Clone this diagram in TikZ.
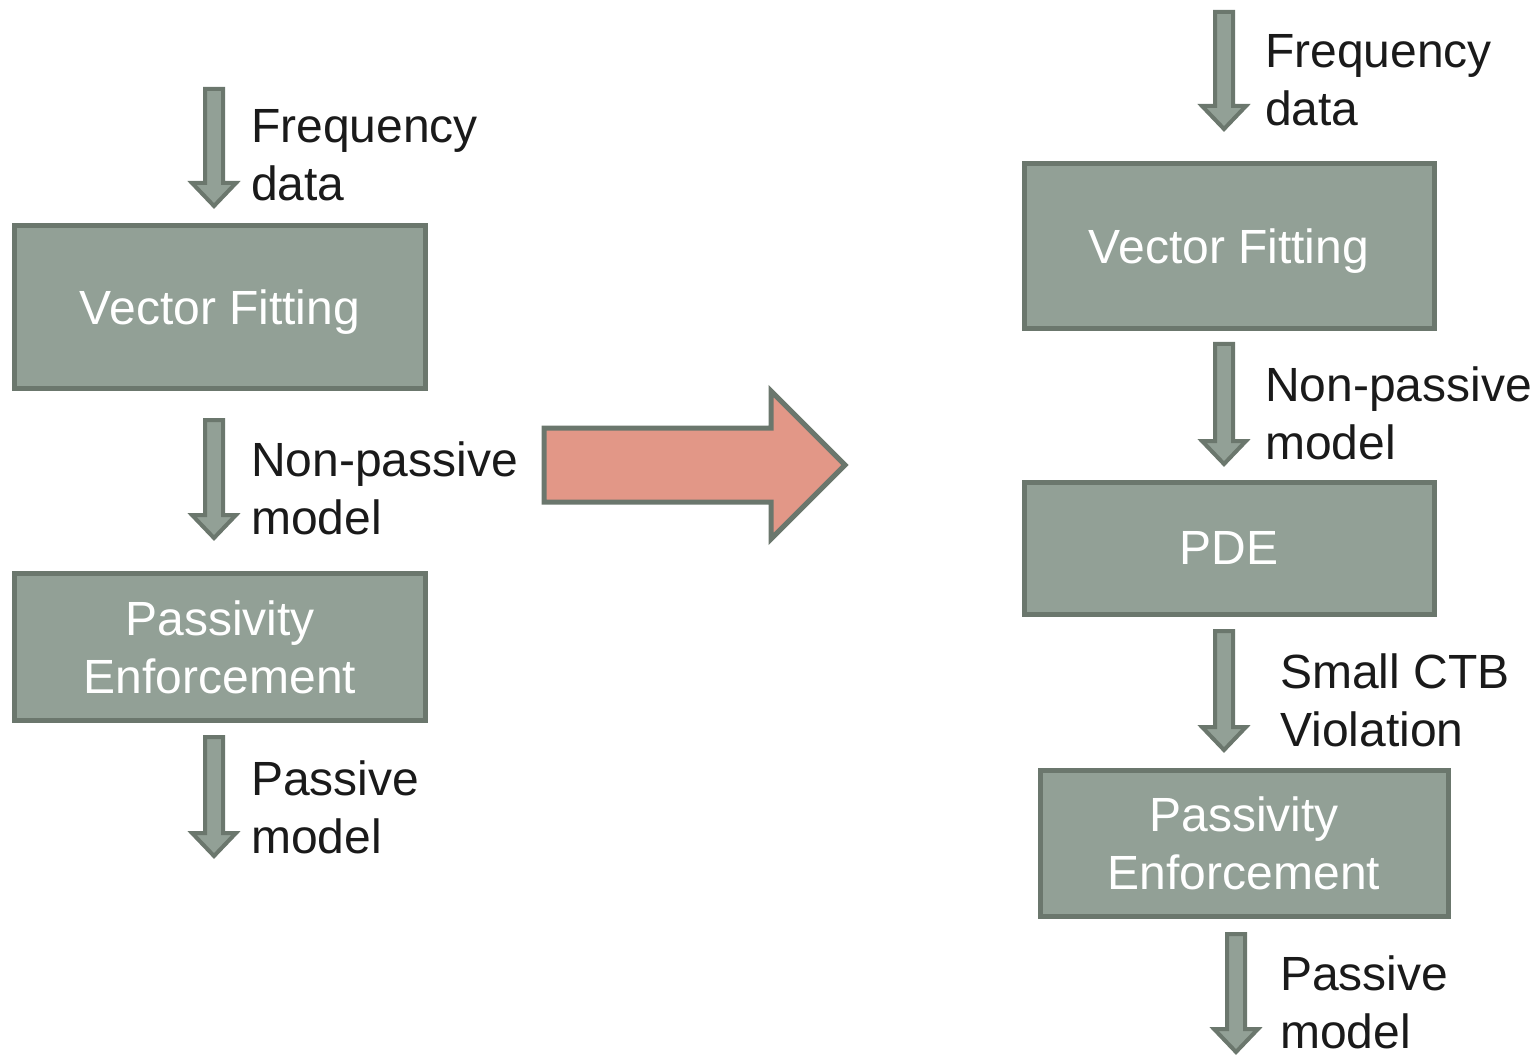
\documentclass[tikz,border=0pt]{standalone}
\usepackage{fontspec}
\setmainfont{Liberation Sans}
\usepackage{tikz}

\definecolor{boxfill}{HTML}{92A096}
\definecolor{boxline}{HTML}{6B776D}
\definecolor{bigfill}{HTML}{E29787}
\definecolor{labeltext}{HTML}{1A1A1A}

\tikzset{
  stage/.style={draw=boxline, fill=boxfill, line width=5pt, text=white,
    align=center, inner sep=0pt, font=\fontsize{48}{58}\selectfont},
  caption/.style={anchor=base west, align=left, inner sep=0pt,
    text=labeltext, font=\fontsize{48}{58}\selectfont},
  flow/.style={draw=boxline, fill=boxfill, line width=4pt, line join=miter},
}
% block arrow pointing down: x, top, tip
\newcommand\flowdown[3]{%
  \draw[flow] (#1-9,#2) -- (#1+9,#2) -- (#1+9,#3-27) -- (#1+22,#3-27)
    -- (#1,#3-4) -- (#1-22,#3-27) -- (#1-9,#3-27) -- cycle;}

\begin{document}
\begin{tikzpicture}[x=1pt,y=-1pt]
    \useasboundingbox (0,0) rectangle (1539,1056);
    % left chain
    \node[stage, text depth=0pt, minimum width=411, minimum height=163] (vfL) at (220,307) {Vector Fitting};
    \node[stage, minimum width=411, minimum height=147] (peL) at (220,647) {Passivity\\Enforcement};
    \flowdown{214}{89}{210}
    \flowdown{214}{420}{542}
    \flowdown{214}{737}{860}
    \node[caption] (inL) at (251,201) {Frequency\\data};
    \node[caption] (npL) at (251,534) {Non-passive\\model};
    \node[caption] (outL) at (251,853) {Passive\\model};
    % big arrow
    \draw[draw=boxline, fill=bigfill, line width=5pt, line join=miter]
      (544,428) -- (771,428) -- (771,391) -- (845,465) -- (771,539)
      -- (771,502) -- (544,502) -- cycle;
    % right chain
    \node[stage, text depth=0pt, minimum width=410, minimum height=165] (vfR) at (1229,246) {Vector Fitting};
    \node[stage, minimum width=410, minimum height=132] (pdeR) at (1229,548) {PDE};
    \node[stage, minimum width=408, minimum height=146] (peR) at (1244,843) {Passivity\\Enforcement};
    \flowdown{1224}{12}{133}
    \flowdown{1224}{344}{468}
    \flowdown{1224}{631}{754}
    \flowdown{1236}{934}{1056}
    \node[caption] (inR) at (1265,126) {Frequency\\data};
    \node[caption] (npR) at (1265,459) {Non-passive\\model};
    \node[caption] (ctbR) at (1280,746) {Small CTB\\Violation};
    \node[caption] (outR) at (1280,1048) {Passive\\model};
\end{tikzpicture}
\end{document}
